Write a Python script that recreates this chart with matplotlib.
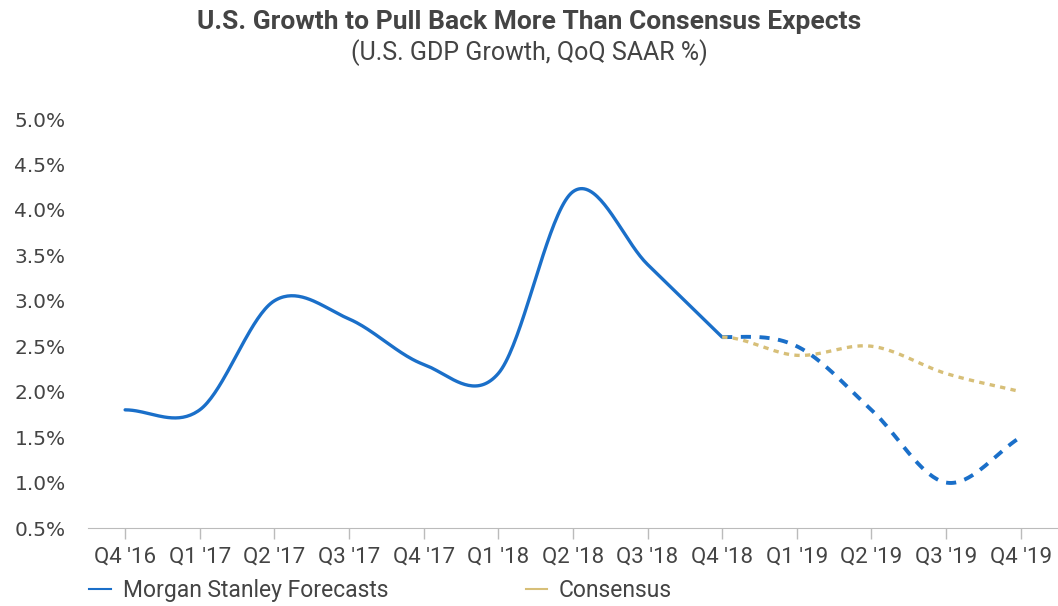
"""U.S. GDP growth: Morgan Stanley forecasts vs consensus."""

import matplotlib
matplotlib.use("Agg")
import matplotlib.pyplot as plt
from matplotlib.lines import Line2D
import numpy as np

quarters = ["Q4 '16", "Q1 '17", "Q2 '17", "Q3 '17", "Q4 '17", "Q1 '18", "Q2 '18",
            "Q3 '18", "Q4 '18", "Q1 '19", "Q2 '19", "Q3 '19", "Q4 '19"]
ms_actual = [1.8, 1.8, 3.0, 2.8, 2.3, 2.2, 4.2, 3.4, 2.6]   # Q4 '16 .. Q4 '18
ms_forecast = [2.6, 2.5, 1.8, 1.0, 1.5]                     # Q4 '18 .. Q4 '19
consensus = [2.6, 2.4, 2.5, 2.2, 2.0]                       # Q4 '18 .. Q4 '19
forecast_start = 8  # index of Q4 '18

BLUE = "#1a6fc9"
TAN = "#d7bf78"
TEXT = "#444444"
NARROW = ["Roboto", "DejaVu Sans"]


def smooth(y, n=40):
    """Catmull-Rom style curve through the points (like Excel's smoothed line)."""
    y = np.asarray(y, dtype=float)
    m = np.zeros_like(y)
    m[1:-1] = (y[2:] - y[:-2]) / 2
    m[0] = 0.0
    m[-1] = (y[-1] - y[-2])
    xs, ys = [], []
    for i in range(len(y) - 1):
        t = np.linspace(0, 1, n, endpoint=False)
        h00 = 2 * t**3 - 3 * t**2 + 1
        h10 = t**3 - 2 * t**2 + t
        h01 = -2 * t**3 + 3 * t**2
        h11 = t**3 - t**2
        xs.append(i + t)
        ys.append(h00 * y[i] + h10 * m[i] + h01 * y[i + 1] + h11 * m[i + 1])
    xs.append([len(y) - 1])
    ys.append([y[-1]])
    return np.concatenate(xs), np.concatenate(ys)


fig = plt.figure(figsize=(10.58, 6.06), dpi=100)
ax = fig.add_axes([0.083, 0.1287, 0.917, 0.6749])

x_a, y_a = smooth(ms_actual)
ax.plot(x_a, y_a, color=BLUE, lw=2.4, solid_capstyle="round")

x_f, y_f = smooth(ms_forecast)
ax.plot(x_f + forecast_start, y_f, color=BLUE, lw=2.8, dashes=(2.6, 2.2))

x_c, y_c = smooth(consensus)
ax.plot(x_c + forecast_start, y_c, color=TAN, lw=2.4, dashes=(1.6, 1.6))

ax.set_xlim(-0.5, 12.5)
ax.set_ylim(0.5, 5.0)
yt = np.arange(0.5, 5.01, 0.5)
ax.set_yticks(yt)
ax.set_yticklabels([f"{v:.1f}%" for v in yt], fontsize=14.5, color=TEXT, family="DejaVu Sans")
ax.set_xticks(range(len(quarters)))
ax.set_xticklabels(quarters, fontsize=16, color=TEXT, family=NARROW)
ax.tick_params(axis="y", length=0, pad=16)
ax.tick_params(axis="x", length=8, color="#bbbbbb", width=1, pad=5)

for side in ["top", "right", "left"]:
    ax.spines[side].set_visible(False)
ax.spines["bottom"].set_color("#bbbbbb")

fig.text(0.5, 0.963, "U.S. Growth to Pull Back More Than Consensus Expects",
         ha="center", va="center", fontsize=19, fontweight="bold", color=TEXT, family=NARROW)
fig.text(0.5, 0.913, "(U.S. GDP Growth, QoQ SAAR %)",
         ha="center", va="center", fontsize=18, color=TEXT, family=NARROW)

handles = [Line2D([], [], color=BLUE, lw=1.5), Line2D([], [], color=TAN, lw=1.5)]
fig.legend(handles, ["Morgan Stanley Forecasts", "Consensus"], loc="lower left",
           bbox_to_anchor=(0.065, -0.028), ncol=2, frameon=False, handlelength=0.95,
           handletextpad=0.5, columnspacing=6.0,
           prop={"family": NARROW, "size": 16.5}, labelcolor=TEXT)

plt.savefig("out.png", dpi=100)
